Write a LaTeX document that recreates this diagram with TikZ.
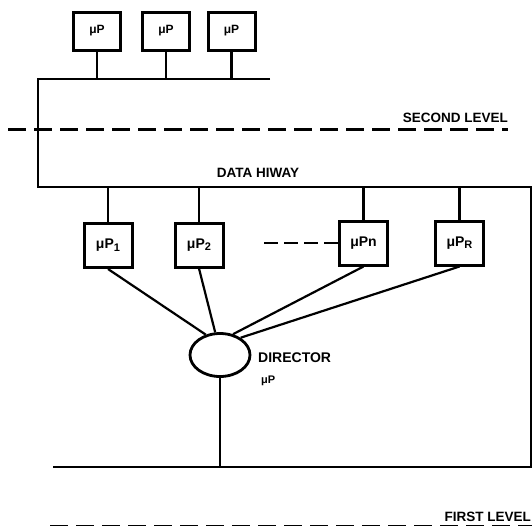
\documentclass[tikz,border=0pt]{standalone}
\usepackage{fontspec}
\setmainfont{Liberation Sans}
\usetikzlibrary{shapes.geometric, positioning}
\newcommand{\lowsub}[1]{\raisebox{-2.5pt}{\fontsize{11}{11}\selectfont #1}}
\tikzset{
  upbox/.style = {
    rectangle, draw, line width=3pt,
    minimum width=47pt, minimum height=38pt, inner sep=0pt,
    font=\bfseries\fontsize{12}{13}\selectfont,
  },
  lowbox/.style = {
    rectangle, draw, line width=3pt,
    minimum width=48pt, minimum height=44pt, inner sep=0pt,
    font=\bfseries\fontsize{14}{15}\selectfont,
  },
  director/.style = {
    ellipse, draw, line width=2.8pt,
    minimum width=60pt, minimum height=43pt,
  },
  wire/.style = {line width=2.2pt},
  levelline/.style = {line width=3pt, dash pattern=on 18pt off 8pt},
  lbl/.style = {inner sep=0pt, font=\bfseries\fontsize{13.5}{14}\selectfont},
}

\begin{document}
\begin{tikzpicture}[x=1pt, y=-1pt]
    \useasboundingbox (0,0) rectangle (532,525);

    % --- Nodes ---
    \node[upbox] (u1) at (97,31)    {μP};
    \node[upbox] (u2) at (166,31)   {μP};
    \node[upbox] (u3) at (231.5,31) {μP};

    \node[lowbox] (p1) at (108,245.5) {μP\lowsub{1}};
    \node[lowbox] (p2) at (199,245)   {μP\lowsub{2}};
    \node[lowbox] (pn) at (363.5,243) {μPn};
    \node[lowbox] (pr) at (459.5,243) {μP\lowsub{R}};

    \node[director] (dir) at (220,355) {};

    \coordinate (hwTL) at (38,79);
    \coordinate (hwTR) at (270,79);
    \coordinate (hwBL) at (38,187);
    \coordinate (hwBR) at (531,187);
    \coordinate (flL)  at (53,467);
    \coordinate (flR)  at (531,467);
    \coordinate[left=74pt of pn.west] (dots);

    % --- Labels ---
    \node[lbl, anchor=base east] (second) at (508,122) {SECOND LEVEL};
    \node[lbl, anchor=base] (hiway) at (258,177) {DATA HIWAY};
    \node[lbl, anchor=base west, font=\bfseries\fontsize{14}{15}\selectfont] (dirtxt) at (258,362) {DIRECTOR};
    \node[lbl, anchor=base west, font=\bfseries\fontsize{11}{12}\selectfont] (dirup) at (261,383) {μP};
    \node[lbl, anchor=base east] (first) at (531,521) {FIRST LEVEL};

    % --- Data hiway ---
    \draw[wire] (hwTR) -- (hwTL) -- (hwBL) -- (hwBR) -- (flR) -- (flL);
    \foreach \b in {u1,u2,u3}
      \draw[wire] (\b.south) -- (\b.south |- hwTL);
    \foreach \b in {p1,p2,pn,pr}
      \draw[wire] (\b.north) -- (\b.north |- hwBL);
    \draw[levelline] (8,129) -- (508,129);
    \draw[levelline] (50,526) -- (540,526);
    \draw[wire, dash pattern=on 14pt off 6pt] (dots) -- (pn.west);

    % --- Director links ---
    \draw[wire] (p1.south) -- (dir.125);
    \draw[wire] (p2.south) -- (dir.102);
    \draw[wire] (pn.south) -- (dir.58);
    \draw[wire] (pr.south) -- (dir.40);
    \draw[wire] (dir.south) -- (dir.south |- flL);
  \end{tikzpicture}
\end{document}
